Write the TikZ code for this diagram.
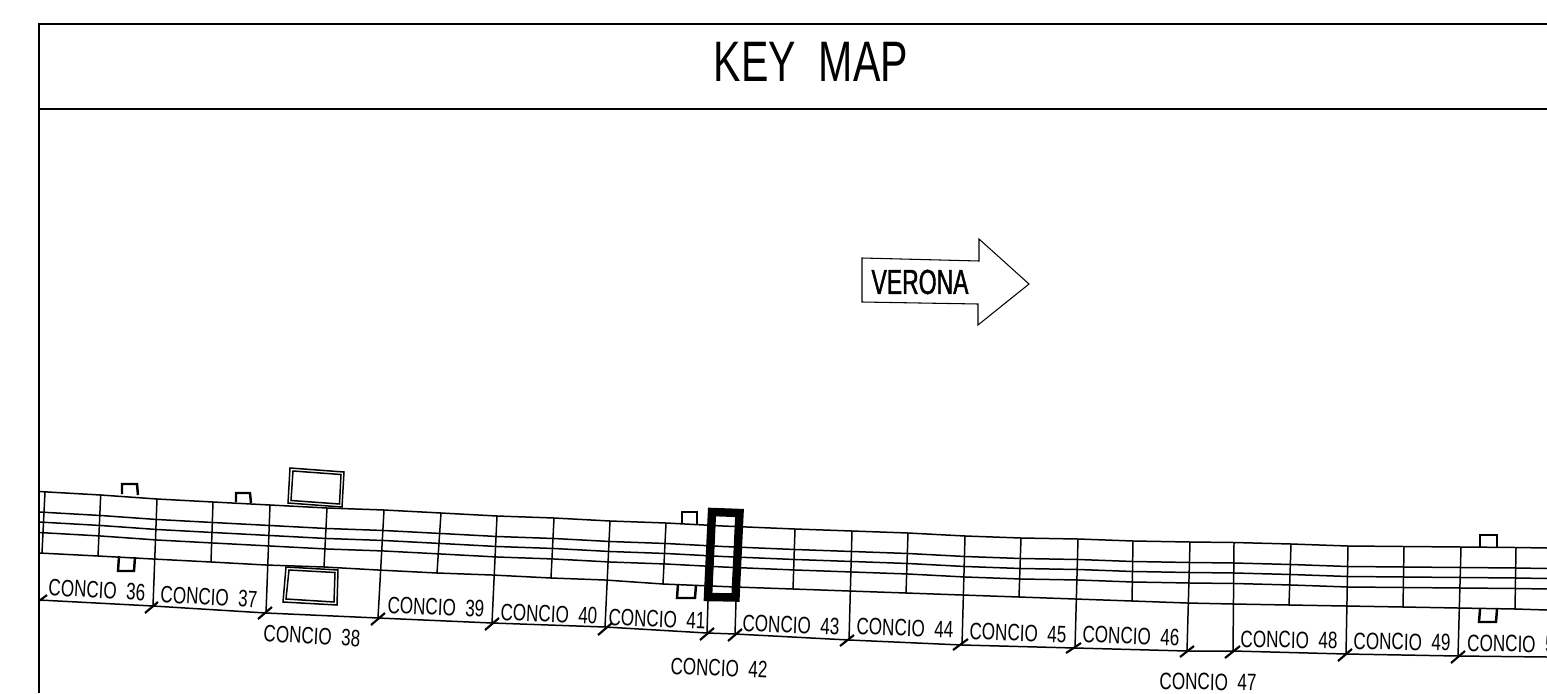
\documentclass[tikz,border=0pt]{standalone}
\usepackage{fontspec}
\setmainfont[FakeStretch=0.72]{Liberation Sans}
\newfontfamily\arrowfont[FakeStretch=0.66,FakeBold=1.2]{Liberation Sans}
\newcommand{\deckedge}{(39,491.5) -- (100.7,495) -- (157,499) -- (213,502) -- (270,505) -- (327,508) -- (384,510) -- (441,513) -- (497,516) -- (554,518) -- (610,521) -- (666,523) -- (723,526) -- (795,529) -- (852,531) -- (908,533) -- (965,536) -- (1021,538) -- (1078,539) -- (1133,541) -- (1190,542) -- (1234,542.5) -- (1291,544) -- (1348,546) -- (1404,546.5) -- (1461,547) -- (1516,547.5) -- (1547,548)}

\begin{document}
\begin{tikzpicture}[x=0.02cm,y=-0.02cm,
  frameline/.style={line width=0.9pt},
  roadline/.style={line width=0.85pt},
  pierline/.style={line width=1.4pt},
  tick/.style={line width=1.2pt},
  concio/.style={font=\fontsize{13.5}{14}\selectfont,inner sep=0pt}]
\useasboundingbox (0,0) rectangle (1547,693);

% frame
\draw[frameline] (1547,24) -- (39,24) -- (39,693);
\draw[frameline] (39,109) -- (1547,109);
\draw (811,62) node[inner sep=0pt,font=\fontsize{32.5}{34}\selectfont] (title) {KEY\ \ MAP};

% direction arrow
\draw[line width=0.6pt] (862,258) -- (979,261) -- (979,239) -- (1029,284) -- (978,325) -- (978,304) -- (862,302) -- cycle;
\draw (920,282) node[inner sep=0pt,font=\arrowfont\fontsize{19.8}{21}\selectfont] (verona) {VERONA};

% deck
\draw[roadline] \deckedge;
\draw[roadline,yshift=-0.41cm] \deckedge;
\draw[roadline,yshift=-0.61cm] \deckedge;
\draw[roadline,yshift=-0.82cm] \deckedge;
\draw[roadline] (39,553) -- (98,556) -- (153,559) -- (211,562) -- (266,565) -- (324,567) -- (378,570) -- (437,573) -- (492,575) -- (551,578) -- (605,580) -- (663,584) -- (735,587) -- (793,589) -- (849,591) -- (906,593) -- (962,595) -- (1019,597) -- (1075,599) -- (1132,601) -- (1187,603) -- (1233,604) -- (1289,605) -- (1346,606) -- (1403,607) -- (1458,608) -- (1515,609) -- (1547,610);

% short joints
\draw[roadline] (45,492) -- (42,553);
\draw[roadline] (100.7,495) -- (98,556);
\draw[roadline] (213,502) -- (211,562);
\draw[roadline] (327,508) -- (324,567);
\draw[roadline] (441,513) -- (437,573);
\draw[roadline] (554,518) -- (551,578);
\draw[roadline] (666,523) -- (663,584);
\draw[roadline] (795,529) -- (793,589);
\draw[roadline] (908,533) -- (906,593);
\draw[roadline] (1021,538) -- (1019,597);
\draw[roadline] (1133,541) -- (1132,601);
\draw[roadline] (1291,544) -- (1289,605);
\draw[roadline] (1404,546.5) -- (1403,607);
\draw[roadline] (1516,547.5) -- (1515,609);

% long joints
\draw[roadline] (157,499) -- (153,606);
\draw[roadline] (270,505) -- (266,613);
\draw[roadline] (384,510) -- (378,618);
\draw[roadline] (497,516) -- (492,623);
\draw[roadline] (610,521) -- (605,627);
\draw[roadline] (708,601) -- (707,633);
\draw[roadline] (736,601) -- (735,634);
\draw[roadline] (852,531) -- (849,640);
\draw[roadline] (965,536) -- (962,645);
\draw[roadline] (1078,539) -- (1075,648);
\draw[roadline] (1190,542) -- (1187,651);
\draw[roadline] (1234,542.5) -- (1233,651);
\draw[roadline] (1348,546) -- (1346,654);
\draw[roadline] (1461,547) -- (1458,656);

% dimension line and ticks
\draw[roadline] (39,600) -- (153,606) -- (266,613) -- (378,618) -- (492,623) -- (605,627) -- (707,633) -- (735,634) -- (849,640) -- (962,645) -- (1075,648) -- (1187,651) -- (1233,651) -- (1346,654) -- (1458,656) -- (1547,657);
\draw[tick] (39,601) -- (47,595);
\draw[tick] (145,613) -- (158,602);
\draw[tick] (258,619) -- (272,607);
\draw[tick] (371,625) -- (385,613);
\draw[tick] (485,630) -- (499,618);
\draw[tick] (598,635) -- (612,623);
\draw[tick] (700,640) -- (714,628);
\draw[tick] (728,641) -- (742,629);
\draw[tick] (840,646) -- (854,635);
\draw[tick] (953,650) -- (968,639);
\draw[tick] (1066,653) -- (1081,643);
\draw[tick] (1180,657) -- (1194,646);
\draw[tick] (1225,658) -- (1240,646);
\draw[tick] (1338,661) -- (1352,649);
\draw[tick] (1451,663) -- (1465,651);

% piers
\draw[pierline] (122,494) -- (122,484) -- (137,484) -- (138,495);
\draw[pierline] (119,556) -- (118,571) -- (134,571) -- (135,557);
\draw[pierline] (236,502) -- (236,493) -- (250,493) -- (251,503);
\draw[pierline] (682,523) -- (682,512) -- (697,512) -- (697,524);
\draw[pierline] (678,584) -- (677,598) -- (695,598) -- (696,585);
\draw[pierline] (1480,547) -- (1480,535) -- (1497,535) -- (1497,548);
\draw[pierline] (1480,609) -- (1479,622) -- (1496,622) -- (1497,609);

% big abutments
\draw[roadline] (290,468) -- (344,472) -- (342,507) -- (288,503) -- cycle;
\draw[roadline] (293,471) -- (341,474.5) -- (339.5,504) -- (291,500.5) -- cycle;
\draw[roadline] (286,567) -- (338,570) -- (337,605) -- (283,602) -- cycle;
\draw[roadline] (289,570) -- (335,572.5) -- (334,602) -- (286,599) -- cycle;

% current segment
\draw[line width=4.8pt,miter limit=10] (712,512) -- (739.5,513) -- (735.5,597.5) -- (708,597) -- cycle;

% labels
\draw (97,590) node[concio,rotate=-3] (c36) {CONCIO\ \ 36};
\draw (209,597) node[concio,rotate=-3] (c37) {CONCIO\ \ 37};
\draw (312,636) node[concio,rotate=-3] (c38) {CONCIO\ \ 38};
\draw (436,607) node[concio,rotate=-2.5] (c39) {CONCIO\ \ 39};
\draw (549,614) node[concio,rotate=-2.5] (c40) {CONCIO\ \ 40};
\draw (657,619) node[concio,rotate=-2.5] (c41) {CONCIO\ \ 41};
\draw (719,668) node[concio,rotate=-2.5] (c42) {CONCIO\ \ 42};
\draw (791,625) node[concio,rotate=-2] (c43) {CONCIO\ \ 43};
\draw (905,628) node[concio,rotate=-2] (c44) {CONCIO\ \ 44};
\draw (1018,633) node[concio,rotate=-2] (c45) {CONCIO\ \ 45};
\draw (1131,636) node[concio,rotate=-2] (c46) {CONCIO\ \ 46};
\draw (1208,682) node[concio,rotate=-1] (c47) {CONCIO\ \ 47};
\draw (1289,640) node[concio,rotate=-1] (c48) {CONCIO\ \ 48};
\draw (1402,642) node[concio,rotate=-1] (c49) {CONCIO\ \ 49};
\draw (1467,643) node[concio,anchor=west,rotate=-1] (c50) {CONCIO\ \ 5};
\end{tikzpicture}
\end{document}
